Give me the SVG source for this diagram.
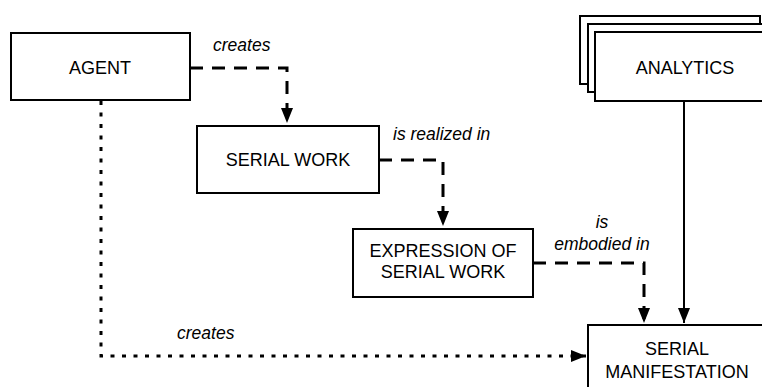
<svg xmlns="http://www.w3.org/2000/svg" width="762" height="387" viewBox="0 0 762 387">
  <style>
    .box { fill: #ffffff; stroke: #000000; stroke-width: 2; }
    .name { font-family: "Liberation Sans", Arial, sans-serif; font-size: 18px; fill: #000000; text-anchor: middle; }
    .rel { font-family: "Liberation Sans", Arial, sans-serif; font-size: 17.5px; font-style: italic; fill: #000000; }
    .dash { fill: none; stroke: #000000; stroke-width: 3; stroke-dasharray: 13 9; }
    .dot { fill: none; stroke: #000000; stroke-width: 3; stroke-dasharray: 4 7.5; }
    .solid { fill: none; stroke: #000000; stroke-width: 2; }
  </style>
  <defs>
    <marker id="arrow" viewBox="0 0 15 12" refX="15" refY="6" markerWidth="15" markerHeight="12" markerUnits="userSpaceOnUse" orient="auto">
      <path d="M0,0 L15,6 L0,12 Z" fill="#000000"/>
    </marker>
  </defs>

  <rect width="762" height="387" fill="#ffffff"/>

  <g id="connectors">
    <path class="dash" d="M190,68 H287 V123" marker-end="url(#arrow)"/>
    <path class="dash" d="M379,160 H443 V226" marker-end="url(#arrow)"/>
    <path class="dash" d="M533,263 H644 V323" marker-end="url(#arrow)"/>
    <path class="solid" d="M684,101 V323" marker-end="url(#arrow)"/>
    <path class="dot" d="M101,101 V356 H586" marker-end="url(#arrow)"/>
    <text class="rel" x="213" y="51">creates</text>
    <text class="rel" x="393" y="140">is realized in</text>
    <text class="rel" x="602" y="228" text-anchor="middle">is</text>
    <text class="rel" x="602" y="250" text-anchor="middle">embodied in</text>
    <text class="rel" x="177" y="339">creates</text>
  </g>

  <g id="agent">
    <rect class="box" x="11" y="33" width="179" height="67"/>
    <text class="name" x="100" y="74">AGENT</text>
  </g>

  <g id="serial-work">
    <rect class="box" x="197" y="126" width="182" height="67"/>
    <text class="name" x="288" y="166">SERIAL WORK</text>
  </g>

  <g id="expression">
    <rect class="box" x="353" y="229" width="180" height="68"/>
    <text class="name" x="443" y="257">EXPRESSION OF</text>
    <text class="name" x="443" y="278">SERIAL WORK</text>
  </g>

  <g id="analytics">
    <rect class="box" x="580" y="16" width="180" height="68"/>
    <rect class="box" x="588" y="24" width="180" height="68"/>
    <rect class="box" x="595" y="32" width="180" height="69"/>
    <text class="name" x="685" y="74">ANALYTICS</text>
  </g>

  <g id="serial-manifestation">
    <rect class="box" x="588" y="325" width="180" height="70"/>
    <text class="name" x="677" y="355">SERIAL</text>
    <text class="name" x="677" y="378">MANIFESTATION</text>
  </g>
</svg>
